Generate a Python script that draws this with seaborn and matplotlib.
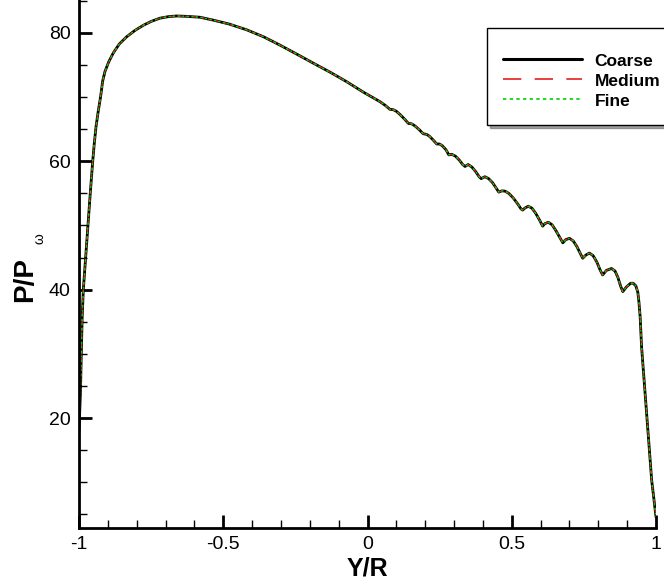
import matplotlib
matplotlib.use("Agg")
import matplotlib.pyplot as plt
from matplotlib.lines import Line2D
import seaborn as sns
import pandas as pd

# ---- data ----
y_over_r = [
    -1.0, -0.995, -0.992, -0.989, -0.985, -0.977, -0.969, -0.961, -0.9525, -0.947,
    -0.941, -0.933, -0.925, -0.918, -0.91, -0.897, -0.881, -0.86, -0.835, -0.806,
    -0.777, -0.75, -0.72, -0.69, -0.661, -0.63, -0.58, -0.5345, -0.48, -0.419,
    -0.36, -0.303, -0.245, -0.188, -0.13, -0.072, -0.015, 0.043, 0.062, 0.078,
    0.089, 0.1, 0.115, 0.13, 0.142, 0.153, 0.165, 0.18, 0.193, 0.205,
    0.215, 0.228, 0.24, 0.25, 0.26, 0.272, 0.282, 0.292, 0.305, 0.318,
    0.33, 0.338, 0.349, 0.362, 0.375, 0.387, 0.394, 0.407, 0.42, 0.433,
    0.445, 0.455, 0.466, 0.477, 0.49, 0.505, 0.52, 0.532, 0.538, 0.545,
    0.557, 0.57, 0.583, 0.597, 0.607, 0.615, 0.627, 0.64, 0.653, 0.667,
    0.677, 0.687, 0.70, 0.713, 0.726, 0.738, 0.746, 0.757, 0.769, 0.782,
    0.795, 0.806, 0.815, 0.828, 0.846, 0.858, 0.868, 0.877, 0.885, 0.897,
    0.912, 0.921, 0.93, 0.937, 0.941, 0.945, 0.95, 0.9675, 0.985, 1.0,
]
p_coarse = [
    18.0, 24.0, 30.0, 35.7, 40.0, 45.0, 50.0, 55.0, 60.0, 62.8,
    65.4, 67.9, 70.1, 72.5, 74.0, 75.5, 76.9, 78.3, 79.4, 80.4,
    81.2, 81.8, 82.3, 82.55, 82.65, 82.6, 82.45, 82.0, 81.4, 80.5,
    79.4, 78.1, 76.7, 75.3, 73.9, 72.4, 70.8, 69.3, 68.7, 68.1,
    68.05, 67.8, 67.2, 66.5, 65.9, 65.85, 65.5, 64.9, 64.3, 64.2,
    63.9, 63.3, 62.7, 62.7, 62.4, 61.8, 61.0, 61.1, 60.8, 60.2,
    59.5, 59.2, 59.5, 59.1, 58.4, 57.6, 57.3, 57.6, 57.3, 56.7,
    55.9, 55.2, 55.4, 55.35, 55.0, 54.3, 53.4, 52.6, 52.4, 52.7,
    53.0, 52.7, 51.9, 50.8, 49.9, 50.3, 50.5, 50.1, 49.2, 48.1,
    47.3, 47.8, 48.0, 47.6, 46.7, 45.6, 44.9, 45.4, 45.7, 45.3,
    44.3, 43.1, 42.3, 43.0, 43.3, 42.9, 41.9, 40.6, 39.7, 40.4,
    41.0, 41.0, 40.6, 39.6, 38.0, 35.8, 31.1, 20.7, 10.3, 4.6,
]
p_medium = list(p_coarse)
p_fine = list(p_coarse)

series_names = ["Coarse", "Medium", "Fine"]
x_tick_values = [-1, -0.5, 0, 0.5, 1]
x_tick_labels = ["-1", "-0.5", "0", "0.5", "1"]
y_tick_values = [20, 40, 60, 80]
y_tick_labels = ["20", "40", "60", "80"]

df = pd.DataFrame({"x": y_over_r, "coarse": p_coarse,
                   "medium": p_medium, "fine": p_fine})

sns.set_style("ticks")
plt.rcParams["font.family"] = ["Liberation Sans", "DejaVu Sans"]
for key in ("text.color", "axes.labelcolor", "xtick.color", "ytick.color",
            "axes.edgecolor"):
    plt.rcParams[key] = "black"

fig = plt.figure(figsize=(6.64, 5.83), dpi=100)
ax = fig.add_axes([79 / 664, 1 - 528 / 583, (656 - 79) / 664, 528 / 583])

sns.lineplot(data=df, x="x", y="coarse", ax=ax, color="black", lw=2.0,
             sort=False, estimator=None)
sns.lineplot(data=df, x="x", y="medium", ax=ax, color="#e02020", lw=1.0,
             sort=False, estimator=None).lines[-1].set_dashes([3, 2.5])
sns.lineplot(data=df, x="x", y="fine", ax=ax, color="#00d000", lw=1.0,
             sort=False, estimator=None).lines[-1].set_dashes([1.5, 1.8])

ax.set_xlim(-1, 1)
ax.set_ylim(2.86, 85.14)
ax.set_xticks(x_tick_values)
ax.set_xticklabels(x_tick_labels)
ax.set_yticks(y_tick_values)
ax.set_yticklabels(y_tick_labels)
ax.set_xticks([v / 10 for v in range(-10, 11)], minor=True)
ax.set_yticks(list(range(5, 86, 5)), minor=True)

ax.tick_params(which="major", direction="in", length=9.5, width=2.0,
               labelsize=14, pad=6, color="black", labelcolor="black")
ax.tick_params(which="minor", direction="in", length=5.5, width=1.0,
               color="black")
sns.despine(ax=ax, top=True, right=True)
for s in ("left", "bottom"):
    ax.spines[s].set_linewidth(2.0)
    ax.spines[s].set_color("black")
    ax.spines[s].set_zorder(5)

ax.set_xlabel("Y/R", fontsize=18, fontweight="bold", labelpad=2)
ax.set_ylabel("P/P", fontsize=20, fontweight="bold")
ax.yaxis.set_label_coords(-0.071, 0.47)
ax.text(-0.069, 0.548, "ω", transform=ax.transAxes, rotation=90,
        fontsize=10, ha="center", va="center")

handles = [
    Line2D([], [], color="black", lw=2.2),
    Line2D([], [], color="#e02020", lw=1.2, dashes=[11, 8]),
    Line2D([], [], color="#00d000", lw=1.2, dashes=[2, 2]),
]
leg = fig.legend(handles, series_names, loc="upper left",
                 bbox_to_anchor=(487 / 664, 1 - 28 / 583),
                 bbox_transform=fig.transFigure,
                 fancybox=False, shadow=True, frameon=True,
                 edgecolor="black", framealpha=1,
                 prop={"weight": "bold", "size": 12.5},
                 title=" ", title_fontsize=2,
                 handlelength=4.5, handletextpad=0.75, labelspacing=0.28,
                 borderpad=0.95, borderaxespad=0)
leg.get_frame().set_linewidth(1.0)

fig.savefig("out.png", dpi=100)
